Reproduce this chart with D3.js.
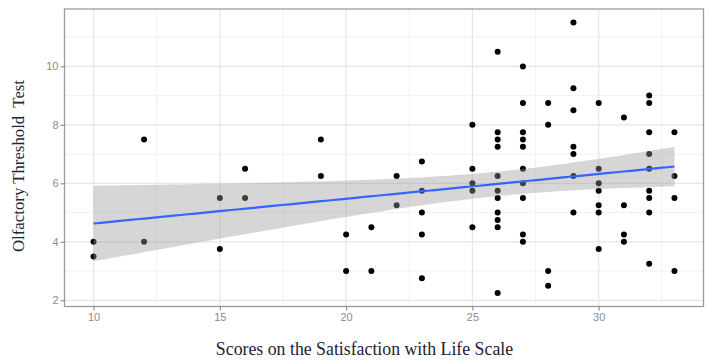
<!DOCTYPE html>
<html>
<head>
<meta charset="utf-8">
<script src="https://cdn.jsdelivr.net/npm/d3@7"></script>
<style>
  html, body { margin: 0; padding: 0; background: #fff; }
  svg { display: block; }
</style>
</head>
<body>
<div id="chart"></div>
<script>
// Scores on the Satisfaction with Life Scale (x) vs Olfactory Threshold Test (y)
const swlsScores = [10,10,12,12,15,15,16,16,19,19,20,20,21,21,22,22,23,23,23,23,23,
  25,25,25,25,25,
  26,26,26,26,26,26,26,26,26,26,26,
  27,27,27,27,27,27,27,27,27,27,
  28,28,28,28,
  29,29,29,29,29,29,29,
  30,30,30,30,30,30,30,
  31,31,31,31,
  32,32,32,32,32,32,32,32,32,
  33,33,33,33];
const thresholdValues = [4,3.5,7.5,4,5.5,3.75,6.5,5.5,7.5,6.25,4.25,3,4.5,3,6.25,5.25,6.75,5.75,5,4.25,2.75,
  8,6.5,6,5.75,4.5,
  10.5,7.75,7.5,7.25,6.25,5.75,5.5,5,4.75,4.5,2.25,
  10,8.75,7.75,7.5,7.25,6.5,6,5.5,4.25,4,
  8.75,8,3,2.5,
  11.5,9.25,8.5,7.25,7,6.25,5,
  8.75,6.5,6,5.75,5.25,5,3.75,
  8.25,5.25,4.25,4,
  9,8.75,7.75,7,6.5,5.75,5.5,5,3.25,
  7.75,6.25,5.5,3];
const xTicks = [10,15,20,25,30];
const yTicks = [2,4,6,8,10];
const xMinor = [12.5,17.5,22.5,27.5,32.5];
const yMinor = [3,5,7,9,11];
const xTitle = "Scores on the Satisfaction with Life Scale";
const yTitle = "Olfactory Threshold\u00A0 Test";

const W = 708, H = 360;
const panel = {left: 64.5, top: 9, right: 703.5, bottom: 306.5};

const data = swlsScores.map((x, i) => ({x, y: thresholdValues[i]}));

const xExt = d3.extent(swlsScores), yExt = d3.extent(thresholdValues);
const xPad = (xExt[1] - xExt[0]) * 0.05, yPad = (yExt[1] - yExt[0]) * 0.05;
const x = d3.scaleLinear().domain([xExt[0] - xPad, xExt[1] + xPad]).range([panel.left, panel.right]);
const y = d3.scaleLinear().domain([yExt[0] - yPad, yExt[1] + yPad]).range([panel.bottom, panel.top]);

// linear regression with 95% confidence band
const n = data.length;
const mx = d3.mean(data, d => d.x), my = d3.mean(data, d => d.y);
const sxx = d3.sum(data, d => (d.x - mx) ** 2);
const sxy = d3.sum(data, d => (d.x - mx) * (d.y - my));
const b1 = sxy / sxx, b0 = my - b1 * mx;
const sse = d3.sum(data, d => (d.y - (b0 + b1 * d.x)) ** 2);
const s = Math.sqrt(sse / (n - 2));
const tq = 1.990;
const fitPts = d3.range(0, 81).map(i => {
  const xv = xExt[0] + (xExt[1] - xExt[0]) * i / 80;
  const yh = b0 + b1 * xv;
  const se = s * Math.sqrt(1 / n + (xv - mx) ** 2 / sxx);
  return {x: xv, y: yh, lo: yh - tq * se, hi: yh + tq * se};
});

const svg = d3.select("#chart").append("svg").attr("width", W).attr("height", H);

// panel background
svg.append("rect").attr("x", panel.left).attr("y", panel.top)
  .attr("width", panel.right - panel.left).attr("height", panel.bottom - panel.top)
  .attr("fill", "#fff");

// grid
const grid = svg.append("g");
grid.selectAll(".xmin").data(xMinor).join("line")
  .attr("x1", d => x(d)).attr("x2", d => x(d)).attr("y1", panel.top).attr("y2", panel.bottom)
  .attr("stroke", "#f2f2f2").attr("stroke-width", 1);
grid.selectAll(".ymin").data(yMinor).join("line")
  .attr("y1", d => y(d)).attr("y2", d => y(d)).attr("x1", panel.left).attr("x2", panel.right)
  .attr("stroke", "#f2f2f2").attr("stroke-width", 1);
grid.selectAll(".xmaj").data(xTicks).join("line")
  .attr("x1", d => x(d)).attr("x2", d => x(d)).attr("y1", panel.top).attr("y2", panel.bottom)
  .attr("stroke", "#e6e6e6").attr("stroke-width", 1.2);
grid.selectAll(".ymaj").data(yTicks).join("line")
  .attr("y1", d => y(d)).attr("y2", d => y(d)).attr("x1", panel.left).attr("x2", panel.right)
  .attr("stroke", "#e6e6e6").attr("stroke-width", 1.2);

// points
svg.append("g").selectAll("circle").data(data).join("circle")
  .attr("cx", d => x(d.x)).attr("cy", d => y(d.y)).attr("r", 3)
  .attr("fill", "#000");

// confidence ribbon
svg.append("path").datum(fitPts)
  .attr("d", d3.area().x(d => x(d.x)).y0(d => y(d.lo)).y1(d => y(d.hi)))
  .attr("fill", "#999999").attr("fill-opacity", 0.4);

// fit line
svg.append("path").datum(fitPts)
  .attr("d", d3.line().x(d => x(d.x)).y(d => y(d.y)))
  .attr("fill", "none").attr("stroke", "#3366FF").attr("stroke-width", 2.2);

// panel border
svg.append("rect").attr("x", panel.left).attr("y", panel.top)
  .attr("width", panel.right - panel.left).attr("height", panel.bottom - panel.top)
  .attr("fill", "none").attr("stroke", "#9a9a9a").attr("stroke-width", 1.3);

// axes
const xAxis = svg.append("g").attr("transform", `translate(0,${panel.bottom})`)
  .call(d3.axisBottom(x).tickValues(xTicks).tickSize(4).tickPadding(3));
const yAxis = svg.append("g").attr("transform", `translate(${panel.left},0)`)
  .call(d3.axisLeft(y).tickValues(yTicks).tickSize(4).tickPadding(2));
[xAxis, yAxis].forEach(a => {
  a.select(".domain").remove();
  a.selectAll(".tick line").attr("stroke", "#8a8a8a").attr("stroke-width", 1.1);
  a.selectAll(".tick text").attr("fill", "#8c8c8c")
    .style("font-family", "'Liberation Sans', Arial, sans-serif").style("font-size", "11px");
});

// titles
svg.append("text").attr("x", 364.5).attr("y", 355)
  .attr("text-anchor", "middle")
  .style("font-family", "'Liberation Serif', 'Times New Roman', serif").style("font-size", "17.8px")
  .attr("fill", "#1e2230").text(xTitle);
svg.append("text").attr("transform", "translate(24,166) rotate(-90)")
  .attr("text-anchor", "middle")
  .style("font-family", "'Liberation Serif', 'Times New Roman', serif").style("font-size", "16.8px")
  .attr("fill", "#1e2436").text(yTitle);
</script>
</body>
</html>
